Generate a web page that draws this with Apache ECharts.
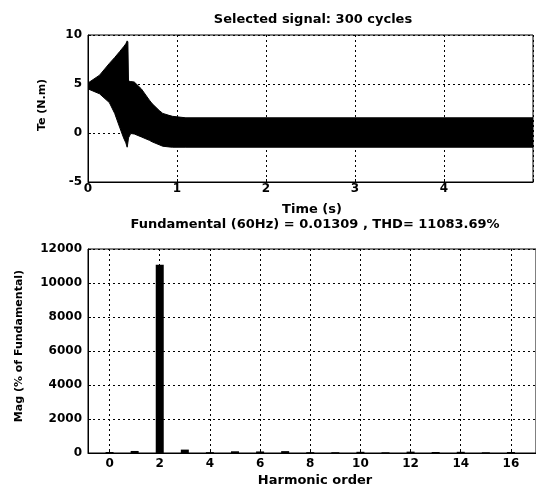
<!DOCTYPE html>
<html>
<head>
<meta charset="utf-8">
<script src="https://cdn.jsdelivr.net/npm/echarts@6/dist/echarts.min.js"></script>
<style>
  html, body { margin: 0; padding: 0; background: #fff; }
  #chart { width: 536px; height: 487px; }
</style>
</head>
<body>
<div id="chart"></div>
<script>
// Electromagnetic torque Te: envelope of the oscillating signal (time in s, N.m)
const envTime  = [0, 0.13, 0.24, 0.30, 0.355, 0.40, 0.425, 0.44, 0.448, 0.455, 0.48, 0.52, 0.60, 0.69, 0.72, 0.80, 0.84, 0.91, 0.95, 1.00, 1.10, 5.00];
const envUpper = [5.1, 5.9, 7.1, 7.7, 8.3, 8.8, 9.1, 9.4, 9.3, 5.3, 5.25, 5.2, 4.5, 3.35, 3.0, 2.3, 2.0, 1.8, 1.7, 1.65, 1.55, 1.55];
const envLower = [4.5, 4.0, 3.1, 2.0, 0.6, -0.5, -1.0, -1.45, -1.0, -0.5, -0.05, -0.1, -0.4, -0.75, -0.9, -1.2, -1.35, -1.42, -1.45, -1.45, -1.45, -1.45];

// FFT spectrum: harmonic order and magnitude (% of fundamental)
const harmonicOrder = [0, 1, 2, 3, 4, 5, 6, 7, 8, 9, 10, 11, 12, 13, 14, 15, 16];
const harmonicMag   = [60, 120, 11080, 200, 50, 100, 90, 110, 50, 45, 70, 40, 80, 60, 70, 40, 60];

// Tick labels
const timeTicks = [0, 1, 2, 3, 4];
const orderTicks = [0, 2, 4, 6, 8, 10, 12, 14, 16];

const FONT = '"DejaVu Sans", sans-serif';
const gridDots = { color: '#000', width: 1, type: [2, 3] };

const chart = echarts.init(document.getElementById('chart'), null, { renderer: 'canvas' });

const envelopeData = envTime.map((t, i) => [t, envUpper[i], envLower[i]]);

const tickLabel = { color: '#000', fontFamily: FONT, fontSize: 12, fontWeight: 'bold' };

const option = {
  backgroundColor: '#fff',
  animation: false,
  grid: [
    { left: 88, top: 35, width: 451, height: 147, show: true, borderColor: '#000', borderWidth: 1, backgroundColor: 'transparent' },
    { left: 88, top: 249, width: 465.5, height: 204, show: true, borderColor: '#000', borderWidth: 1, backgroundColor: 'transparent' }
  ],
  xAxis: [
    {
      gridIndex: 0, type: 'value', min: 0, max: 5, interval: 1,
      axisLine: { onZero: false, lineStyle: { color: '#000' } },
      axisTick: { inside: true, length: 3, lineStyle: { color: '#000' } },
      axisLabel: Object.assign({}, tickLabel, {
        margin: 1,
        formatter: v => (timeTicks.indexOf(v) >= 0 ? String(v) : '')
      }),
      splitLine: { show: true, lineStyle: gridDots }
    },
    {
      gridIndex: 1, type: 'value', min: -0.86, max: 17,
      axisLine: { onZero: false, lineStyle: { color: '#000' } },
      axisTick: { inside: true, length: 3, customValues: orderTicks, lineStyle: { color: '#000' } },
      axisLabel: Object.assign({}, tickLabel, { margin: 5, customValues: orderTicks, formatter: v => String(v) }),
      splitLine: { show: true, lineStyle: gridDots }
    }
  ],
  yAxis: [
    {
      gridIndex: 0, type: 'value', min: -5, max: 10, interval: 5,
      axisLine: { show: true, onZero: false, lineStyle: { color: '#000' } },
      axisTick: { show: true, inside: true, length: 3, lineStyle: { color: '#000' } },
      axisLabel: Object.assign({}, tickLabel, { margin: 6, formatter: v => String(v) }),
      splitLine: { show: true, lineStyle: gridDots }
    },
    {
      gridIndex: 1, type: 'value', min: 0, max: 12000, interval: 2000,
      axisLine: { show: true, onZero: false, lineStyle: { color: '#000' } },
      axisTick: { show: true, inside: true, length: 3, lineStyle: { color: '#000' } },
      axisLabel: Object.assign({}, tickLabel, { margin: 6, formatter: v => String(v) }),
      splitLine: { show: true, lineStyle: gridDots }
    }
  ],
  series: [
    {
      // whole envelope drawn as one filled outline
      type: 'custom',
      xAxisIndex: 0, yAxisIndex: 0,
      clip: true,
      data: envelopeData,
      renderItem(params, api) {
        if (params.dataIndex !== 0) return null;
        const upper = envelopeData.map(d => api.coord([d[0], d[1]]));
        const lower = envelopeData.map(d => api.coord([d[0], d[2]])).reverse();
        return {
          type: 'polygon',
          shape: { points: upper.concat(lower) },
          style: { fill: '#000', stroke: '#000', lineWidth: 1 }
        };
      }
    },
    {
      type: 'bar',
      xAxisIndex: 1, yAxisIndex: 1,
      barWidth: 8,
      itemStyle: { color: '#000' },
      data: harmonicOrder.map((h, i) => [h, harmonicMag[i]])
    }
  ],
  graphic: [
    { type: 'text', x: 313, y: 20, style: { text: 'Selected signal: 300 cycles', font: 'bold 13px ' + FONT, fill: '#000', textAlign: 'center', textVerticalAlign: 'middle' } },
    { type: 'text', x: 312, y: 210, style: { text: 'Time (s)', font: 'bold 13px ' + FONT, fill: '#000', textAlign: 'center', textVerticalAlign: 'middle' } },
    { type: 'text', x: 315, y: 225, style: { text: 'Fundamental (60Hz) = 0.01309 , THD= 11083.69%', font: 'bold 13px ' + FONT, fill: '#000', textAlign: 'center', textVerticalAlign: 'middle' } },
    { type: 'text', x: 315, y: 481, style: { text: 'Harmonic order', font: 'bold 13px ' + FONT, fill: '#000', textAlign: 'center', textVerticalAlign: 'middle' } },
    { type: 'text', x: 42, y: 105, rotation: Math.PI / 2, style: { text: 'Te (N.m)', font: 'bold 11px ' + FONT, fill: '#000', textAlign: 'center', textVerticalAlign: 'middle' } },
    { type: 'text', x: 19, y: 346, rotation: Math.PI / 2, style: { text: 'Mag (% of Fundamental)', font: 'bold 11px ' + FONT, fill: '#000', textAlign: 'center', textVerticalAlign: 'middle' } }
  ]
};

chart.setOption(option);
</script>
</body>
</html>
